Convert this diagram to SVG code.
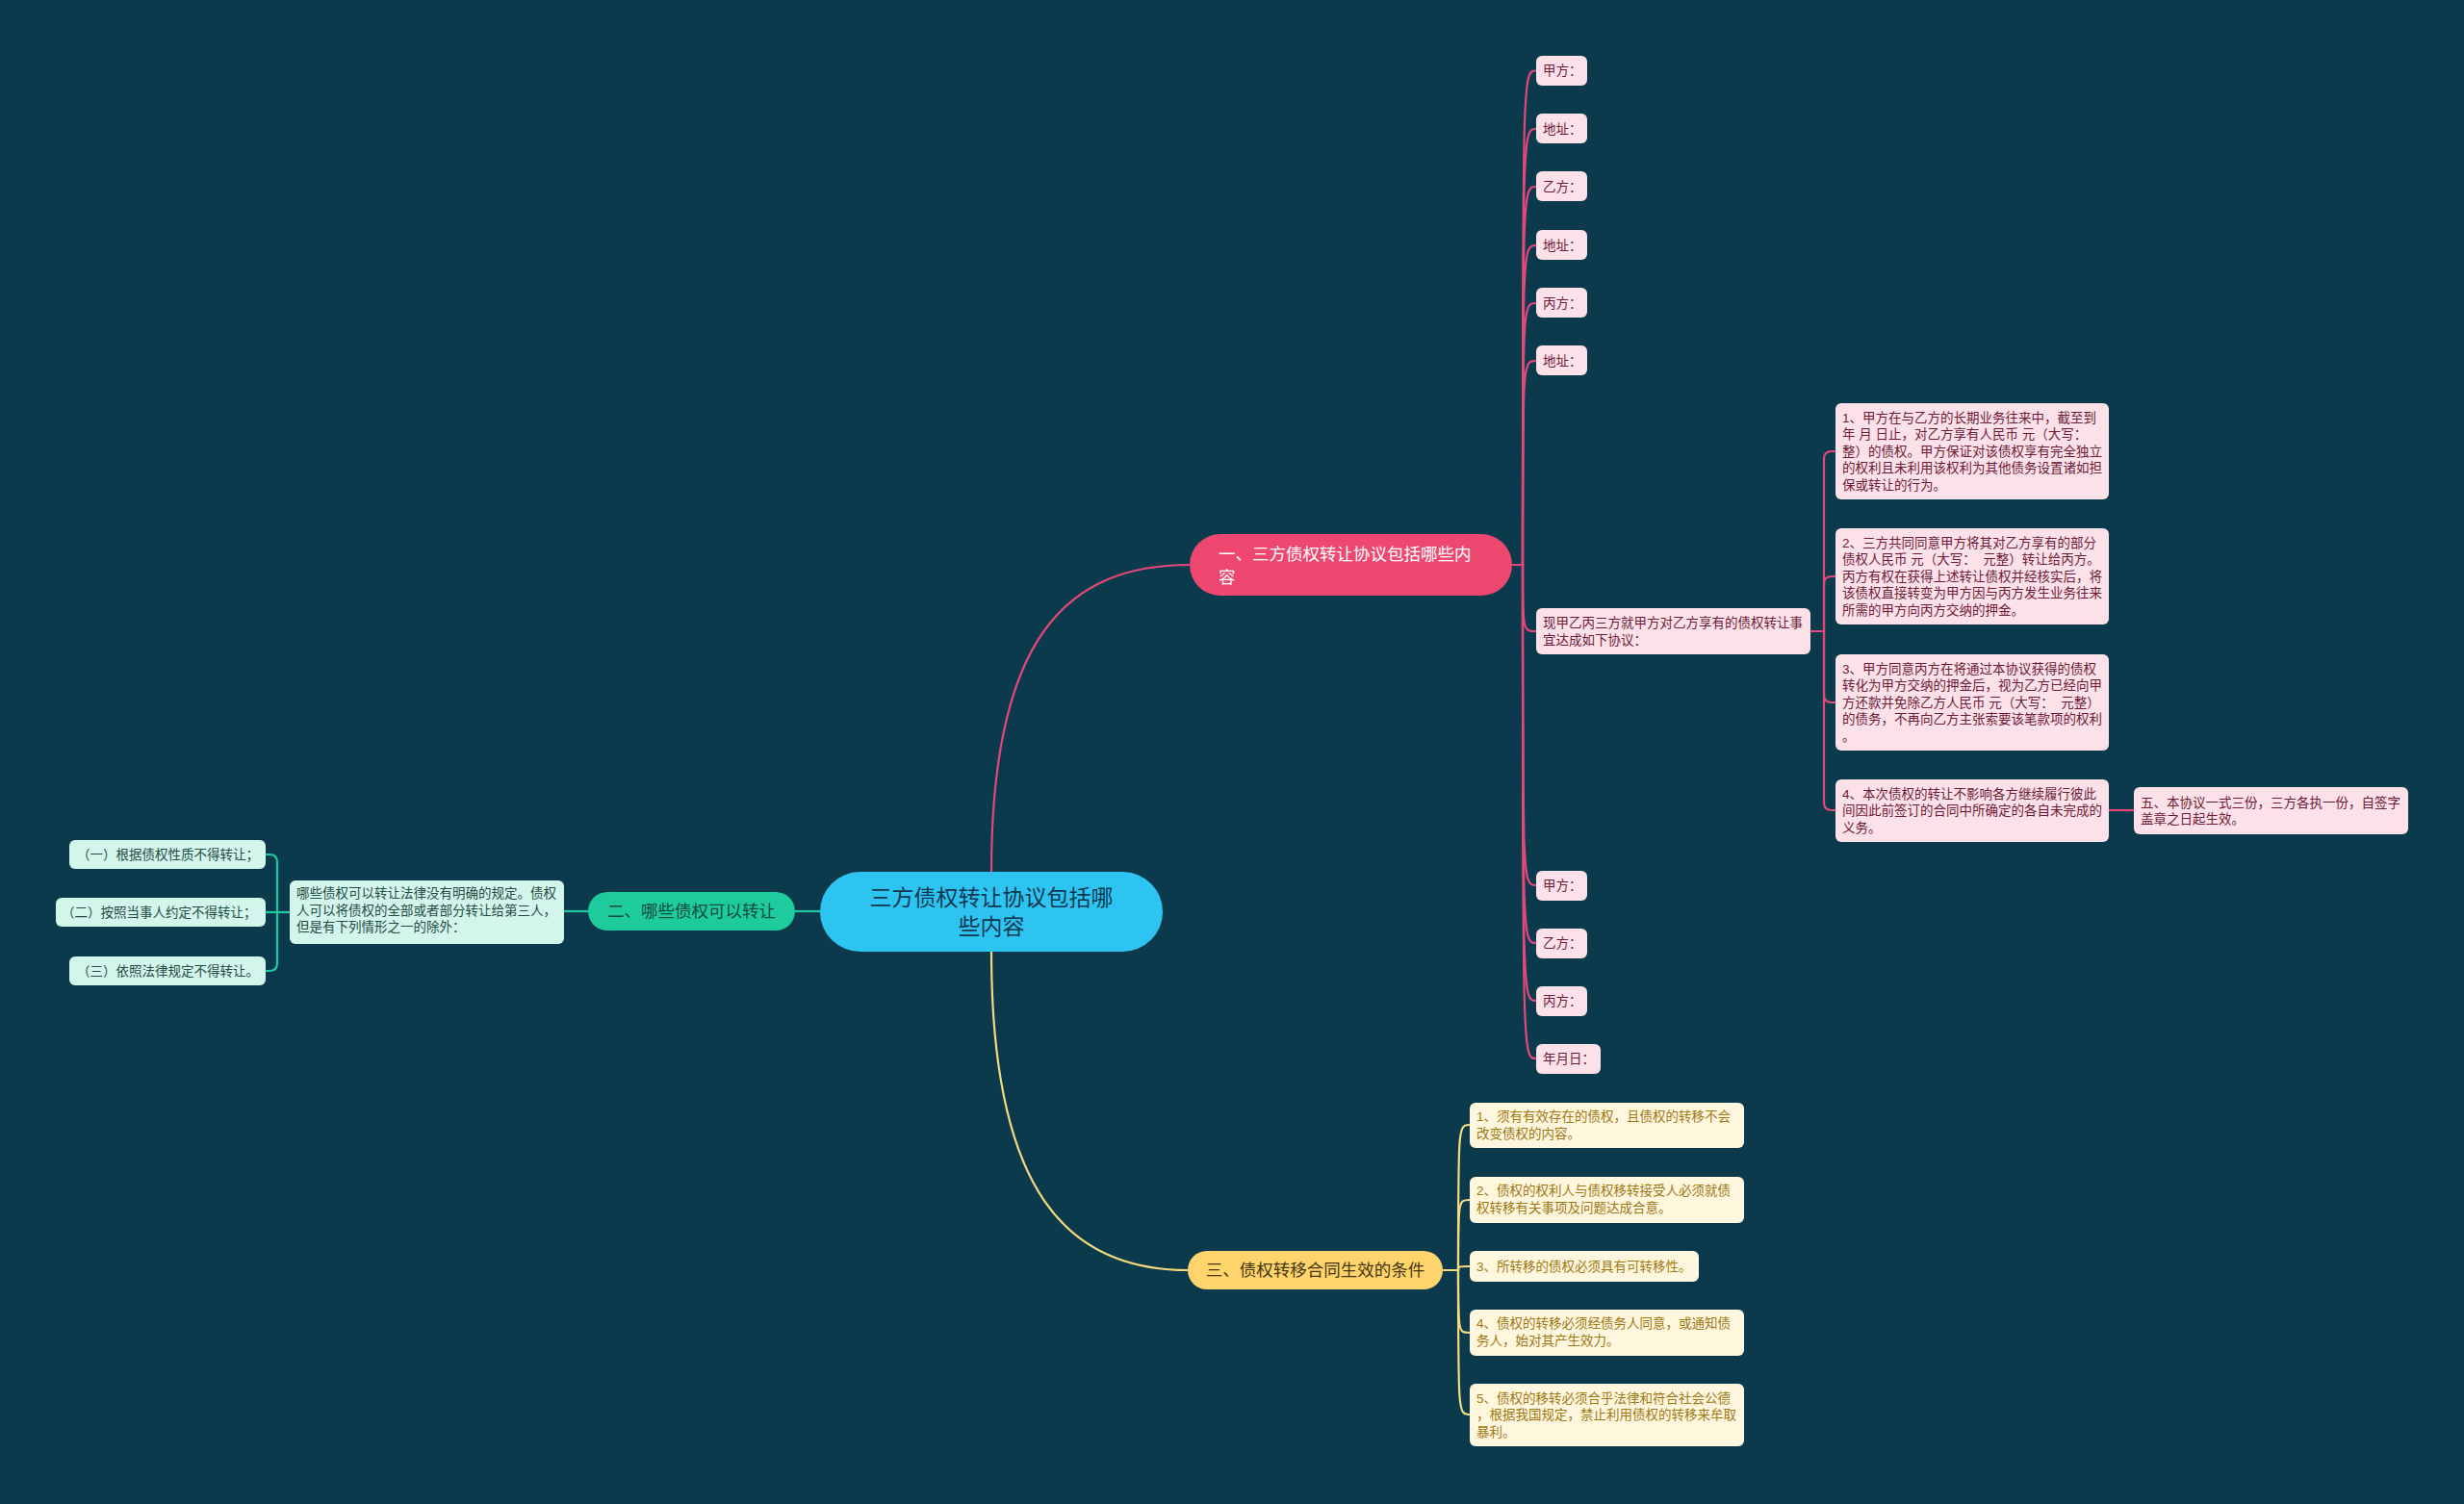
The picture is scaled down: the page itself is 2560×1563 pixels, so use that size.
<svg xmlns="http://www.w3.org/2000/svg" width="2560" height="1563" viewBox="0 0 2560 1563">
<style>
text{font-family:"Liberation Sans","Noto Sans CJK SC",sans-serif;white-space:pre}
.lf{font-size:13.5px}
.pk{fill:#FDE1E8}
.pkt{fill:#6E1A36}
.gn{fill:#D2F5EC}
.gnt{fill:#1F4C43}
.yl{fill:#FFF6DE}
.ylt{fill:#A07812}
.cp{fill:none;stroke:#E4487A;stroke-width:2.2}
.cg{fill:none;stroke:#22C99E;stroke-width:2.2}
.cy{fill:none;stroke:#F4D97E;stroke-width:2.2}
</style>
<rect width="2560" height="1563" fill="#0B3A4D"/>
<g id="connectors">
<path class="cp" stroke-width="2.6" d="M1030,906 C1030,660 1110,587 1236,587"/>
<path class="cy" stroke-width="2.6" d="M1030,989 C1030,1240 1110,1320 1234,1320"/>
<path class="cg" stroke-width="2.6" d="M852,947 H826"/>
<path class="cg" d="M611,947 H586"/>
<path class="cg" d="M301,948 H288 V896 Q288,888 280,888 H276"/>
<path class="cg" d="M301,948 H276"/>
<path class="cg" d="M301,948 H288 V1001 Q288,1009 280,1009 H276"/>
<path class="cp" d="M1571,587 H1582 C1582,73.5 1582,73.5 1596,73.5"/>
<path class="cp" d="M1571,587 H1582 C1582,134 1582,134 1596,134"/>
<path class="cp" d="M1571,587 H1582 C1582,194 1582,194 1596,194"/>
<path class="cp" d="M1571,587 H1582 C1582,255 1582,255 1596,255"/>
<path class="cp" d="M1571,587 H1582 C1582,315 1582,315 1596,315"/>
<path class="cp" d="M1571,587 H1582 C1582,375 1582,375 1596,375"/>
<path class="cp" d="M1571,587 H1582 C1582,656 1582,656 1596,656"/>
<path class="cp" d="M1571,587 H1582 C1582,920 1582,920 1596,920"/>
<path class="cp" d="M1571,587 H1582 C1582,980 1582,980 1596,980"/>
<path class="cp" d="M1571,587 H1582 C1582,1040 1582,1040 1596,1040"/>
<path class="cp" d="M1571,587 H1582 C1582,1100 1582,1100 1596,1100"/>
<path class="cp" d="M1881,656 H1895 V477 Q1895,469 1903,469 H1907"/>
<path class="cp" d="M1881,656 H1895 V607 Q1895,599 1903,599 H1907"/>
<path class="cp" d="M1881,656 H1895 V722 Q1895,730 1903,730 H1907"/>
<path class="cp" d="M1881,656 H1895 V834 Q1895,842 1903,842 H1907"/>
<path class="cp" d="M2191,842 H2217"/>
<path class="cy" d="M1499,1320 H1515 C1515,1169 1515,1169 1527,1169"/>
<path class="cy" d="M1499,1320 H1515 C1515,1247 1515,1247 1527,1247"/>
<path class="cy" d="M1499,1320 H1515 C1515,1316 1515,1316 1527,1316"/>
<path class="cy" d="M1499,1320 H1515 C1515,1385 1515,1385 1527,1385"/>
<path class="cy" d="M1499,1320 H1515 C1515,1470 1515,1470 1527,1470"/>
</g>
<g id="root">
<rect x="852" y="906" width="356" height="83" rx="41.5" fill="#2DC4F1"/>
<text x="1030" y="941" font-size="23" text-anchor="middle" fill="#0E3850">三方债权转让协议包括哪</text>
<text x="1030" y="971" font-size="23" text-anchor="middle" fill="#0E3850">些内容</text>
</g>
<g id="b1">
<rect x="1236" y="555" width="335" height="64" rx="32" fill="#EE4770"/>
<text x="1266" y="582" font-size="17.5" fill="#FFFFFF">一、三方债权转让协议包括哪些内</text>
<text x="1266" y="606" font-size="17.5" fill="#FFFFFF">容</text>
</g>
<g id="b2">
<rect x="611" y="927" width="215" height="40" rx="20" fill="#1ECB9C"/>
<text x="718.5" y="953" font-size="17.5" text-anchor="middle" fill="#0F4C40">二、哪些债权可以转让</text>
</g>
<g id="b3">
<rect x="1234" y="1300" width="265" height="40" rx="20" fill="#FFD46C"/>
<text x="1366.5" y="1326" font-size="17.5" text-anchor="middle" fill="#45360E">三、债权转移合同生效的条件</text>
</g>
<g id="p1"><rect class="pk" x="1596" y="58" width="53" height="31" rx="6"/><text class="lf pkt" x="1603" y="78">甲方：</text></g>
<g id="p2"><rect class="pk" x="1596" y="118" width="53" height="31" rx="6"/><text class="lf pkt" x="1603" y="138.5">地址：</text></g>
<g id="p3"><rect class="pk" x="1596" y="178" width="53" height="31" rx="6"/><text class="lf pkt" x="1603" y="198.5">乙方：</text></g>
<g id="p4"><rect class="pk" x="1596" y="239" width="53" height="31" rx="6"/><text class="lf pkt" x="1603" y="259.5">地址：</text></g>
<g id="p5"><rect class="pk" x="1596" y="299" width="53" height="31" rx="6"/><text class="lf pkt" x="1603" y="319.5">丙方：</text></g>
<g id="p6"><rect class="pk" x="1596" y="359" width="53" height="31" rx="6"/><text class="lf pkt" x="1603" y="379.5">地址：</text></g>
<g id="p7"><rect class="pk" x="1596" y="632" width="285" height="48" rx="6"/>
<text class="lf pkt" x="1603" y="652">现甲乙丙三方就甲方对乙方享有的债权转让事</text>
<text class="lf pkt" x="1603" y="669.5">宜达成如下协议：</text></g>
<g id="p8"><rect class="pk" x="1596" y="905" width="53" height="31" rx="6"/><text class="lf pkt" x="1603" y="925">甲方：</text></g>
<g id="p9"><rect class="pk" x="1596" y="965" width="53" height="31" rx="6"/><text class="lf pkt" x="1603" y="985">乙方：</text></g>
<g id="p10"><rect class="pk" x="1596" y="1025" width="53" height="31" rx="6"/><text class="lf pkt" x="1603" y="1045">丙方：</text></g>
<g id="p11"><rect class="pk" x="1596" y="1085" width="67" height="31" rx="6"/><text class="lf pkt" x="1603" y="1105">年月日：</text></g>
<g id="s1"><rect class="pk" x="1907" y="419" width="284" height="100" rx="6"/>
<text class="lf pkt" x="1914" y="438.5">1、甲方在与乙方的长期业务往来中，截至到</text>
<text class="lf pkt" x="1914" y="456">年 月 日止，对乙方享有人民币 元（大写：</text>
<text class="lf pkt" x="1914" y="473.5">整）的债权。甲方保证对该债权享有完全独立</text>
<text class="lf pkt" x="1914" y="491">的权利且未利用该权利为其他债务设置诸如担</text>
<text class="lf pkt" x="1914" y="508.5">保或转让的行为。</text></g>
<g id="s2"><rect class="pk" x="1907" y="549" width="284" height="100" rx="6"/>
<text class="lf pkt" x="1914" y="568.5">2、三方共同同意甲方将其对乙方享有的部分</text>
<text class="lf pkt" x="1914" y="586">债权人民币 元（大写：  元整）转让给丙方。</text>
<text class="lf pkt" x="1914" y="603.5">丙方有权在获得上述转让债权并经核实后，将</text>
<text class="lf pkt" x="1914" y="621">该债权直接转变为甲方因与丙方发生业务往来</text>
<text class="lf pkt" x="1914" y="638.5">所需的甲方向丙方交纳的押金。</text></g>
<g id="s3"><rect class="pk" x="1907" y="680" width="284" height="100" rx="6"/>
<text class="lf pkt" x="1914" y="699.5">3、甲方同意丙方在将通过本协议获得的债权</text>
<text class="lf pkt" x="1914" y="717">转化为甲方交纳的押金后，视为乙方已经向甲</text>
<text class="lf pkt" x="1914" y="734.5">方还款并免除乙方人民币 元（大写：  元整）</text>
<text class="lf pkt" x="1914" y="752">的债务，不再向乙方主张索要该笔款项的权利</text>
<text class="lf pkt" x="1914" y="769.5">。</text></g>
<g id="s4"><rect class="pk" x="1907" y="810" width="284" height="65" rx="6"/>
<text class="lf pkt" x="1914" y="829.5">4、本次债权的转让不影响各方继续履行彼此</text>
<text class="lf pkt" x="1914" y="847">间因此前签订的合同中所确定的各自未完成的</text>
<text class="lf pkt" x="1914" y="864.5">义务。</text></g>
<g id="s5"><rect class="pk" x="2217" y="818" width="285" height="49" rx="6"/>
<text class="lf pkt" x="2224" y="838.5">五、本协议一式三份，三方各执一份，自签字</text>
<text class="lf pkt" x="2224" y="856">盖章之日起生效。</text></g>
<g id="g0"><rect class="gn" x="301" y="915" width="285" height="66" rx="6"/>
<text class="lf gnt" x="308" y="933">哪些债权可以转让法律没有明确的规定。债权</text>
<text class="lf gnt" x="308" y="950.5">人可以将债权的全部或者部分转让给第三人，</text>
<text class="lf gnt" x="308" y="968">但是有下列情形之一的除外：</text></g>
<g id="g1"><rect class="gn" x="72" y="873" width="204" height="30" rx="6"/><text class="lf gnt" x="80" y="892.5">（一）根据债权性质不得转让；</text></g>
<g id="g2"><rect class="gn" x="58" y="933" width="218" height="30" rx="6"/><text class="lf gnt" x="64" y="952.5">（二）按照当事人约定不得转让；</text></g>
<g id="g3"><rect class="gn" x="72" y="994" width="204" height="30" rx="6"/><text class="lf gnt" x="80" y="1013.5">（三）依照法律规定不得转让。</text></g>
<g id="y1"><rect class="yl" x="1527" y="1146" width="285" height="47" rx="6"/>
<text class="lf ylt" x="1534" y="1165">1、须有有效存在的债权，且债权的转移不会</text>
<text class="lf ylt" x="1534" y="1182.5">改变债权的内容。</text></g>
<g id="y2"><rect class="yl" x="1527" y="1223" width="285" height="48" rx="6"/>
<text class="lf ylt" x="1534" y="1242">2、债权的权利人与债权移转接受人必须就债</text>
<text class="lf ylt" x="1534" y="1259.5">权转移有关事项及问题达成合意。</text></g>
<g id="y3"><rect class="yl" x="1527" y="1300" width="238" height="32" rx="6"/>
<text class="lf ylt" x="1534" y="1321">3、所转移的债权必须具有可转移性。</text></g>
<g id="y4"><rect class="yl" x="1527" y="1361" width="285" height="48" rx="6"/>
<text class="lf ylt" x="1534" y="1380">4、债权的转移必须经债务人同意，或通知债</text>
<text class="lf ylt" x="1534" y="1397.5">务人，始对其产生效力。</text></g>
<g id="y5"><rect class="yl" x="1527" y="1438" width="285" height="65" rx="6"/>
<text class="lf ylt" x="1534" y="1457.5">5、债权的移转必须合乎法律和符合社会公德</text>
<text class="lf ylt" x="1534" y="1475">，根据我国规定，禁止利用债权的转移来牟取</text>
<text class="lf ylt" x="1534" y="1492.5">暴利。</text></g>
</svg>
